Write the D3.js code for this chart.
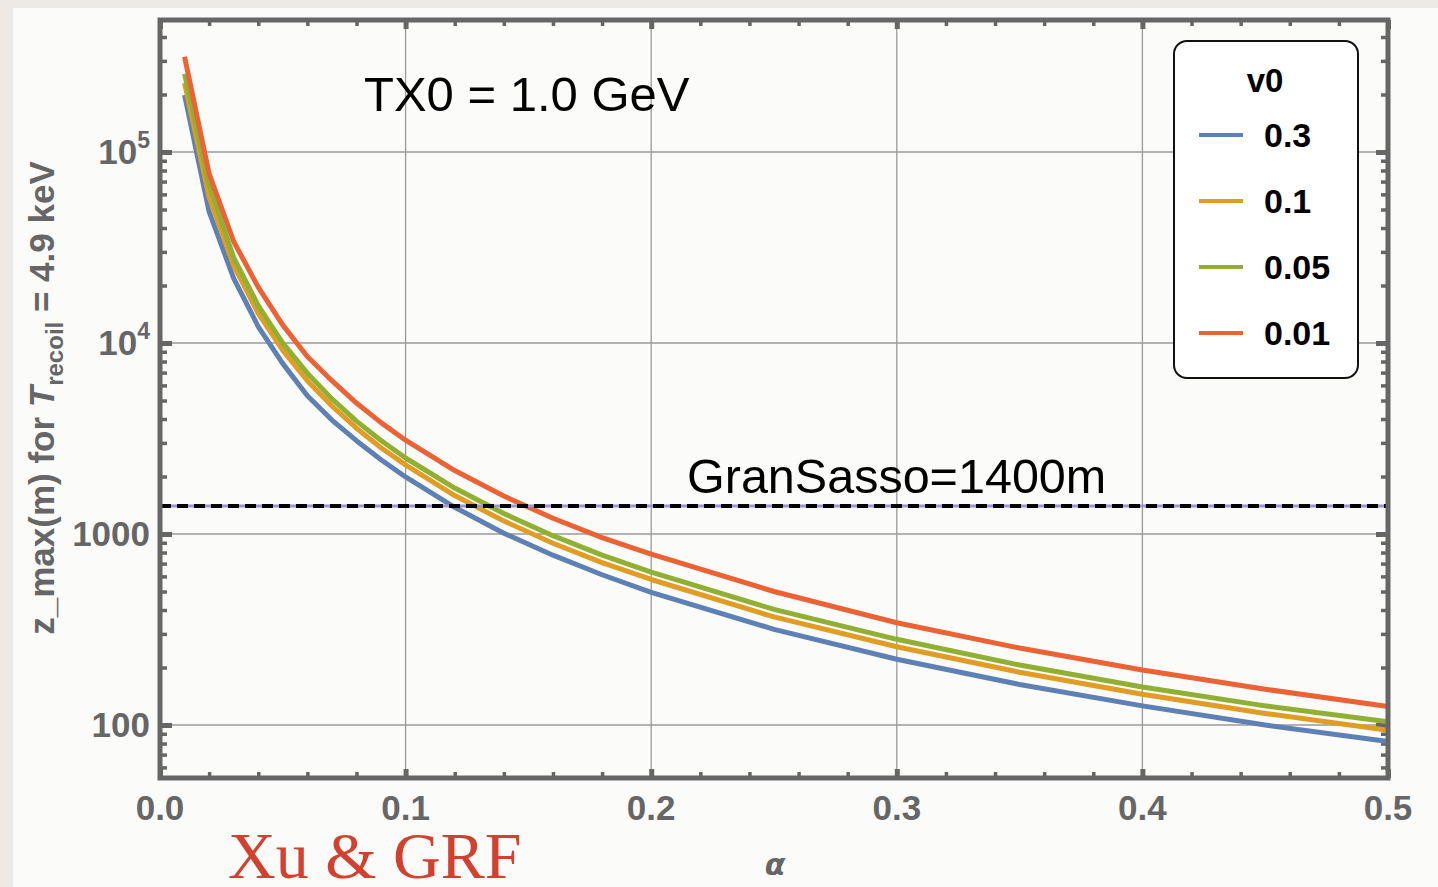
<!DOCTYPE html>
<html>
<head>
<meta charset="utf-8">
<script src="https://cdn.jsdelivr.net/npm/d3@7"></script>
<style>
  body { margin: 0; background: #edeae6; }
  svg { display: block; }
</style>
</head>
<body>
<svg id="chart"></svg>
<script>
'use strict';

var WIDTH = 1438;
var HEIGHT = 887;

// alpha sample points
var alphas = [0.01, 0.02, 0.03, 0.04, 0.05, 0.06, 0.07, 0.08, 0.09, 0.10,
  0.12, 0.14, 0.16, 0.18, 0.20, 0.25, 0.30, 0.35, 0.40, 0.45, 0.50];

// z_max (m), one list per v0
var zV03 = [199000, 48700, 21800, 12200, 7800, 5300, 3950, 3080, 2450, 1990,
  1380, 1010, 775, 612, 495, 317, 221, 163, 126, 100, 82];
var zV01 = [230000, 58000, 25500, 14300, 9150, 6350, 4680, 3580, 2830, 2300,
  1590, 1170, 895, 708, 578, 368, 257, 189, 145, 115, 94];
var zV005 = [257000, 67000, 28000, 15700, 10000, 6950, 5100, 3900, 3090, 2500,
  1740, 1280, 980, 775, 632, 403, 281, 206, 158, 126, 104];
var zV001 = [315000, 77000, 34000, 19600, 12400, 8500, 6350, 4850, 3830, 3100,
  2150, 1580, 1210, 958, 785, 500, 343, 253, 194, 154, 125];

var seriesNames = ["0.3", "0.1", "0.05", "0.01"];
var seriesColors = ["#5e81b5", "#e19c24", "#8fb032", "#eb6235"];
var seriesData = [zV03, zV01, zV005, zV001];

var xTicks = [0.0, 0.1, 0.2, 0.3, 0.4, 0.5];
var xTickLabels = ["0.0", "0.1", "0.2", "0.3", "0.4", "0.5"];
var yTicks = [100, 1000, 10000, 100000];
var gransasso = 1400;

var PL = 160, PR = 1388, PT = 20, PB = 778;

var x = d3.scaleLinear().domain([0, 0.5]).range([PL, PR]);
var y = d3.scaleLog().domain([52.8, 491000]).range([PB, PT]);

var svg = d3.select("#chart").attr("width", WIDTH).attr("height", HEIGHT);

svg.append("rect").attr("x", 13).attr("y", 8).attr("width", WIDTH - 13).attr("height", HEIGHT - 8)
  .attr("fill", "#fbfbfa");

// grid
var grid = svg.append("g");
grid.selectAll("line.gx").data(xTicks.slice(1, -1)).enter().append("line")
  .attr("x1", function(d){ return x(d); }).attr("x2", function(d){ return x(d); })
  .attr("y1", PT).attr("y2", PB)
  .attr("stroke", "#9a9a9a").attr("stroke-width", 1.3);
grid.selectAll("line.gy").data(yTicks).enter().append("line")
  .attr("x1", PL).attr("x2", PR)
  .attr("y1", function(d){ return y(d); }).attr("y2", function(d){ return y(d); })
  .attr("stroke", "#9a9a9a").attr("stroke-width", 1.3);

// minor tick values
var xMinor = d3.range(0.02, 0.5, 0.02).filter(function(v){ return Math.abs(v*10 - Math.round(v*10)) > 1e-6; });
var yMinor = [];
[10, 100, 1000, 10000, 100000].forEach(function(dec){
  for (var k = 2; k <= 9; k++) {
    var v = dec * k;
    if (v > 52.8 && v < 491000) yMinor.push(v);
  }
});

function tickAxis(axisFn, scale, vals, size, width, transform) {
  var g = svg.append("g").attr("transform", transform)
    .call(axisFn(scale).tickValues(vals).tickSize(size).tickFormat(""));
  g.select(".domain").remove();
  g.selectAll(".tick line").attr("stroke", "#666").attr("stroke-width", width);
}

// ticks on all four sides, pointing inward
tickAxis(d3.axisBottom, x, xTicks, -9, 5, "translate(0," + PB + ")");
tickAxis(d3.axisBottom, x, xMinor, -6, 3.5, "translate(0," + PB + ")");
tickAxis(d3.axisTop, x, xTicks, -9, 5, "translate(0," + PT + ")");
tickAxis(d3.axisTop, x, xMinor, -6, 3.5, "translate(0," + PT + ")");
tickAxis(d3.axisLeft, y, yTicks, -12, 5, "translate(" + PL + ",0)");
tickAxis(d3.axisLeft, y, yMinor, -7, 3.5, "translate(" + PL + ",0)");
tickAxis(d3.axisRight, y, yTicks, -12, 5, "translate(" + PR + ",0)");
tickAxis(d3.axisRight, y, yMinor, -7, 3.5, "translate(" + PR + ",0)");

// curves
var line = d3.line()
  .x(function(d){ return x(d[0]); })
  .y(function(d){ return y(d[1]); });

var curves = svg.append("g");
seriesData.forEach(function(vals, i){
  var pts = alphas.map(function(a, j){ return [a, vals[j]]; });
  curves.append("path").datum(pts).attr("d", line)
    .attr("fill", "none").attr("stroke", seriesColors[i])
    .attr("stroke-width", 5).attr("stroke-linejoin", "round");
});

// Gran Sasso depth line
svg.append("line").attr("x1", PL).attr("x2", PR)
  .attr("y1", y(gransasso)).attr("y2", y(gransasso))
  .attr("stroke", "#a191d8").attr("stroke-width", 3);
svg.append("line").attr("x1", PL).attr("x2", PR)
  .attr("y1", y(gransasso)).attr("y2", y(gransasso))
  .attr("stroke", "#000").attr("stroke-width", 4).attr("stroke-dasharray", "11,6");

// frame
svg.append("rect").attr("x", PL).attr("y", PT).attr("width", PR - PL).attr("height", PB - PT)
  .attr("fill", "none").attr("stroke", "#666").attr("stroke-width", 5);

// tick labels
svg.selectAll("text.xl").data(xTicks).enter().append("text")
  .attr("x", function(d){ return x(d); }).attr("y", 820)
  .attr("text-anchor", "middle")
  .attr("font-family", "Liberation Sans, Arial, sans-serif").attr("font-weight", "bold")
  .attr("font-size", 35).attr("fill", "#666")
  .text(function(d, i){ return xTickLabels[i]; });

var yl = svg.selectAll("text.yl").data(yTicks).enter().append("text")
  .attr("x", 150).attr("y", function(d){ return y(d) + 12; })
  .attr("text-anchor", "end")
  .attr("font-family", "Liberation Sans, Arial, sans-serif").attr("font-weight", "bold")
  .attr("font-size", 35).attr("fill", "#666");
yl.each(function(d){
  var t = d3.select(this);
  if (d >= 10000) {
    t.append("tspan").text("10");
    t.append("tspan").attr("font-size", 23).attr("dy", -16).text(Math.round(Math.log10(d)));
  } else {
    t.text(d);
  }
});

// axis titles
var ylab = svg.append("text")
  .attr("transform", "translate(54,398) rotate(-90)")
  .attr("text-anchor", "middle")
  .attr("font-family", "Liberation Sans, Arial, sans-serif").attr("font-weight", "bold")
  .attr("font-size", 35).attr("fill", "#666");
ylab.append("tspan").text("z_max(m) for ");
ylab.append("tspan").attr("font-style", "italic").text("T");
ylab.append("tspan").attr("font-size", 24).attr("dy", 9).text("recoil");
ylab.append("tspan").attr("dy", -9).text(" = 4.9 keV");

svg.append("text").attr("x", 775).attr("y", 875).attr("text-anchor", "middle")
  .attr("font-family", "DejaVu Sans, sans-serif").attr("font-style", "italic").attr("font-weight", "bold")
  .attr("font-size", 30).attr("fill", "#666").text("α");

// annotations
svg.append("text").attr("x", 364).attr("y", 111)
  .attr("font-family", "Liberation Sans, Arial, sans-serif")
  .attr("font-size", 49).attr("fill", "#000").text("TX0 = 1.0 GeV");

svg.append("text").attr("x", 687).attr("y", 493)
  .attr("font-family", "Liberation Sans, Arial, sans-serif")
  .attr("font-size", 48.5).attr("fill", "#000").text("GranSasso=1400m");

// legend
var leg = svg.append("g");
leg.append("rect").attr("x", 1174).attr("y", 41).attr("width", 184).attr("height", 337)
  .attr("rx", 13).attr("fill", "#fff").attr("stroke", "#111").attr("stroke-width", 2);
leg.append("text").attr("x", 1265).attr("y", 92).attr("text-anchor", "middle")
  .attr("font-family", "Liberation Sans, Arial, sans-serif").attr("font-weight", "bold")
  .attr("font-size", 33).attr("fill", "#000").text("v0");
seriesNames.forEach(function(name, i){
  var ly = 135 + i * 66;
  leg.append("line").attr("x1", 1199).attr("x2", 1243).attr("y1", ly).attr("y2", ly)
    .attr("stroke", seriesColors[i]).attr("stroke-width", 4);
  leg.append("text").attr("x", 1264).attr("y", ly + 12)
    .attr("font-family", "Liberation Sans, Arial, sans-serif").attr("font-weight", "bold")
    .attr("font-size", 34).attr("fill", "#000").text(name);
});

// watermark
svg.append("text").attr("x", 228).attr("y", 878)
  .attr("font-family", "Liberation Serif, DejaVu Serif, serif")
  .attr("font-size", 66).attr("fill", "#d1412d").text("Xu & GRF");
</script>
</body>
</html>
